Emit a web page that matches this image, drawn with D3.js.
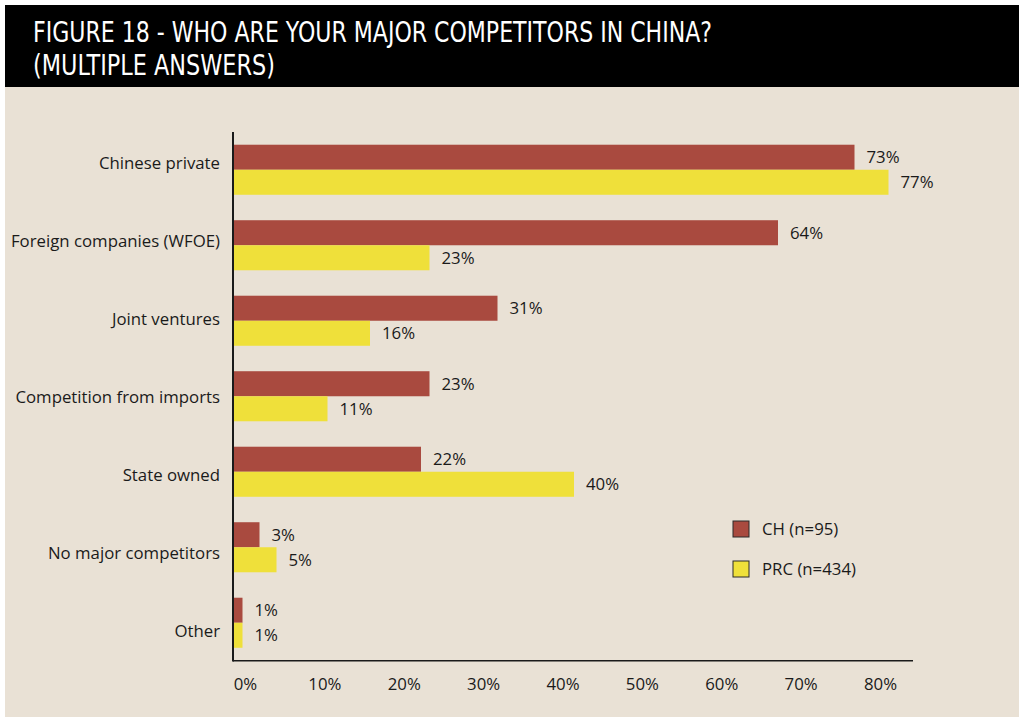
<!DOCTYPE html>
<html>
<head>
<meta charset="utf-8">
<script src="https://cdn.jsdelivr.net/npm/d3@7"></script>
<style>
  html, body { margin: 0; padding: 0; background: #ffffff; }
  svg { display: block; }
  text { font-family: "Open Sans", "Noto Sans", sans-serif; fill: #1a1a1a; }
</style>
</head>
<body>
<svg id="chart" width="1020" height="717"></svg>
<script>
const titleLines = ["FIGURE 18 - WHO ARE YOUR MAJOR COMPETITORS IN CHINA?", "(MULTIPLE ANSWERS)"];
const categories = ["Chinese private", "Foreign companies (WFOE)", "Joint ventures", "Competition from imports", "State owned", "No major competitors", "Other"];
const seriesNames = ["CH (n=95)", "PRC (n=434)"];
const chValues = [73, 64, 31, 23, 22, 3, 1];
const prcValues = [77, 23, 16, 11, 40, 5, 1];
const tickValues = [0, 10, 20, 30, 40, 50, 60, 70, 80];
const colors = ["#a94a3f", "#efe03a"];

const svg = d3.select("#chart");

// background panels
svg.append("rect").attr("x", 5).attr("y", 5).attr("width", 1014).attr("height", 82).attr("fill", "#000");
svg.append("rect").attr("x", 5).attr("y", 87).attr("width", 1014).attr("height", 630).attr("fill", "#e9e1d5");

// title
const titleWidths = [679, 242];
titleLines.forEach((t, i) => {
  svg.append("text")
    .attr("x", 33).attr("y", 42 + i * 33)
    .attr("textLength", titleWidths[i])
    .attr("lengthAdjust", "spacingAndGlyphs")
    .style("font-family", "'Liberation Sans Narrow', 'DejaVu Sans Condensed', 'Open Sans', sans-serif")
    .style("font-size", "27.5px")
    .style("fill", "#ffffff")
    .text(t);
});

// scales
const x = d3.scaleLinear().domain([0, 80]).range([234, 914]);
const y = d3.scaleBand().domain(categories).range([132, 660.5]).paddingInner(0.337).paddingOuter(0.1685);
const ySub = d3.scaleBand().domain(seriesNames).range([0, y.bandwidth()]);
const yLabel = d3.scalePoint().domain(categories).range([163, 631]);
const tickScale = d3.scaleLinear().domain([0, 80]).range([245, 880]);

const data = categories.map((c, i) => ({ cat: c, vals: [chValues[i], prcValues[i]] }));

// bars
const groups = svg.append("g").selectAll("g").data(data).join("g")
  .attr("transform", d => `translate(0,${y(d.cat)})`);

groups.selectAll("rect").data(d => d.vals.map((v, k) => ({ v, k }))).join("rect")
  .attr("x", x(0))
  .attr("y", d => ySub(seriesNames[d.k]))
  .attr("width", d => x(d.v) - x(0))
  .attr("height", ySub.bandwidth())
  .attr("fill", d => colors[d.k]);

groups.selectAll("text.val").data(d => d.vals.map((v, k) => ({ v, k }))).join("text")
  .attr("class", "val")
  .attr("x", d => x(d.v) + 12)
  .attr("y", d => ySub(seriesNames[d.k]) + ySub.bandwidth() / 2)
  .attr("dy", "0.36em")
  .style("font-size", "16.8px")
  .text(d => d.v + "%");

// category labels
svg.append("g").selectAll("text").data(categories).join("text")
  .attr("x", 220)
  .attr("y", d => yLabel(d))
  .attr("dy", "0.36em")
  .attr("text-anchor", "end")
  .style("font-size", "16.8px")
  .text(d => d);

// axis lines
svg.append("line").attr("x1", 233).attr("x2", 233).attr("y1", 132).attr("y2", 661.5)
  .attr("stroke", "#1a1a1a").attr("stroke-width", 2);
svg.append("line").attr("x1", 233).attr("x2", 913).attr("y1", 660.7).attr("y2", 660.7)
  .attr("stroke", "#1a1a1a").attr("stroke-width", 1.6);

// tick labels
const axis = d3.axisBottom(tickScale).tickValues(tickValues).tickSize(0).tickPadding(3).tickFormat(d => d + "%");
const ax = svg.append("g").attr("transform", "translate(0,675)").call(axis);
ax.select(".domain").remove();
ax.selectAll("text").style("font-size", "16.8px").style("font-family", "'Open Sans', sans-serif").attr("fill", "#1a1a1a");

// legend
const legend = svg.append("g").selectAll("g").data(seriesNames).join("g")
  .attr("transform", (d, i) => `translate(733,${521 + i * 40})`);
legend.append("rect").attr("width", 16).attr("height", 16)
  .attr("fill", (d, i) => colors[i]).attr("stroke", "#2a2a2a").attr("stroke-width", 1);
legend.append("text").attr("x", 29).attr("y", 8).attr("dy", "0.36em")
  .style("font-size", "16.8px").text(d => d);
</script>
</body>
</html>
